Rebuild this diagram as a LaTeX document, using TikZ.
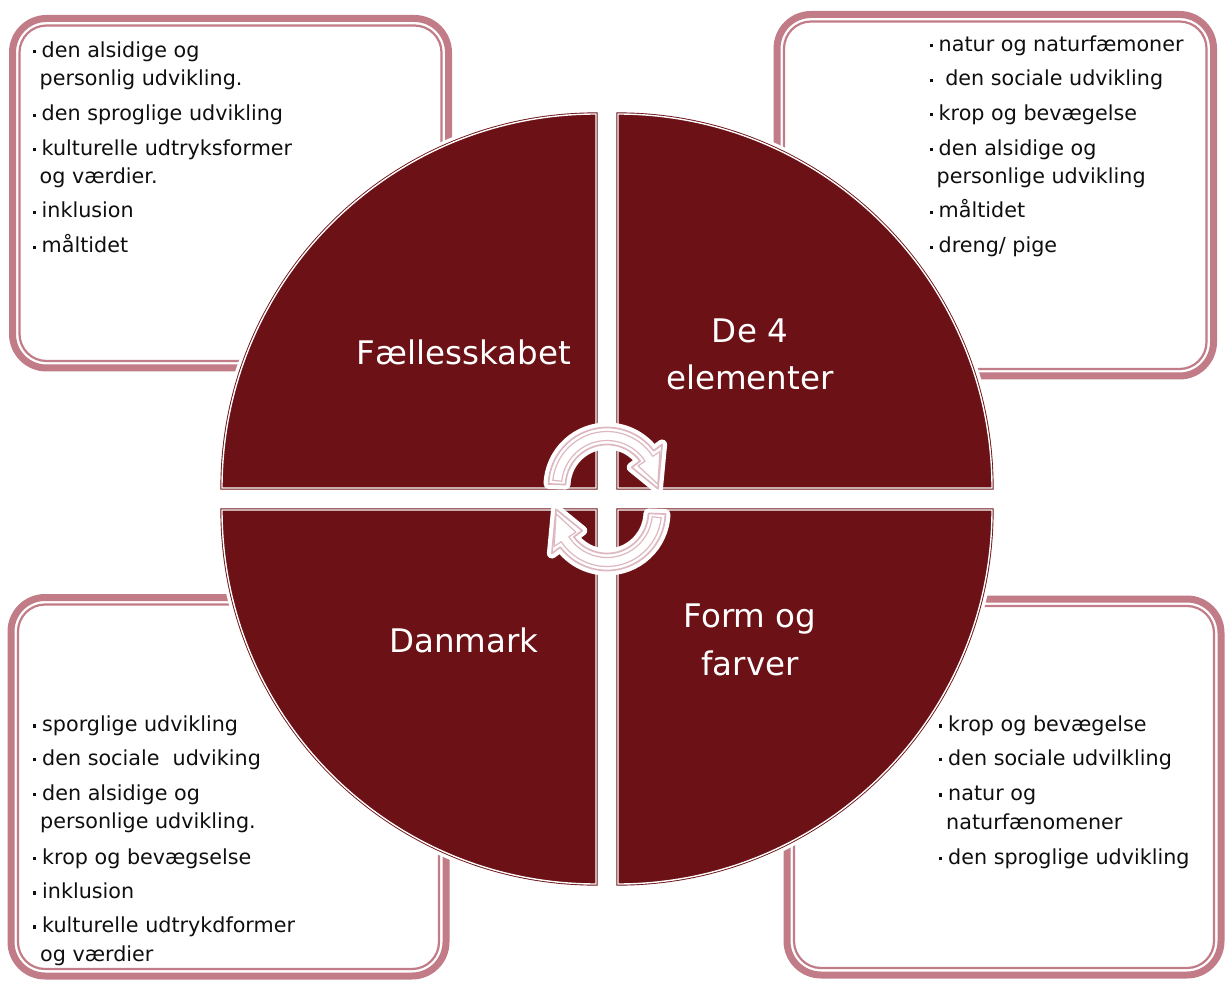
\documentclass[tikz,border=0pt]{standalone}
\usepackage{fontspec}
\setmainfont{DejaVu Sans}
\definecolor{qred}{RGB}{108,18,22}
\definecolor{boxc}{RGB}{193,124,136}
\definecolor{arrc}{RGB}{221,184,193}
\definecolor{txtc}{RGB}{15,15,15}
\newcommand\bdot{\rule[4pt]{3.2pt}{3.2pt}\hspace{5.8pt}}
\newcommand\arrowouter[1]{(178+#1:58.5) arc[start angle=178+#1, end angle=37+#1, radius=58.5] -- (37+#1:69) -- (-3+#1:51) -- (37+#1:31) -- (37+#1:41.5) arc[start angle=37+#1, end angle=178+#1, radius=41.5] -- cycle}
\newcommand\arrowinner[1]{(174+#1:54.5) arc[start angle=174+#1, end angle=33+#1, radius=54.5] -- (33+#1:63) -- (2+#1:51) -- (33+#1:37) -- (33+#1:45.5) arc[start angle=33+#1, end angle=174+#1, radius=45.5] -- cycle}
\newcommand\qTL{(596,-488) -- ++(-374,0) arc[start angle=180, end angle=90, radius=374] -- cycle}
\newcommand\qTR{(618,-488) -- ++(0,374) arc[start angle=90, end angle=0, radius=374] -- cycle}
\newcommand\qBL{(596,-510) -- ++(0,-374) arc[start angle=270, end angle=180, radius=374] -- cycle}
\newcommand\qBR{(618,-510) -- ++(374,0) arc[start angle=0, end angle=-90, radius=374] -- cycle}
\begin{document}
\begin{tikzpicture}[x=1pt,y=1pt,
  txt/.style={anchor=base west, inner sep=0, text=txtc, font=\fontsize{20.7}{24}\selectfont},
  ttl/.style={anchor=base, inner sep=0, text=white, font=\fontsize{32.5}{40}\selectfont},
  band/.style={draw=boxc, line width=7, rounded corners=34},
  boxline/.style={draw=boxc, line width=2.2, rounded corners=27},
  halo/.style={draw=white, line width=10, line join=round},
  qfill/.style={fill=qred},
  qedge/.style={draw=qred, double=white, double distance=1.4, line width=0.9},
  arrline/.style={draw=arrc, line width=1.7, line join=round},
  arrinner/.style={draw=arrc, line width=1.2, line join=round}]
\fill[white] (0,0) rectangle (1226,-981);
\useasboundingbox (0,0) rectangle (1226,-981);

% boxes
\draw[band] (12.5,-18.5) rectangle (448.5,-368);
\draw[boxline] (19.5,-25.5) rectangle (441.5,-361);
\draw[band] (777,-14.5) rectangle (1213.5,-376);
\draw[boxline] (784,-21.5) rectangle (1206.5,-369);
\draw[band] (11,-597.5) rectangle (446,-976);
\draw[boxline] (18,-604.5) rectangle (439,-969);
\draw[band] (787,-599) rectangle (1221,-975);
\draw[boxline] (794,-606) rectangle (1214,-968);

% quadrants
\foreach \q in {\qTL,\qTR,\qBL,\qBR}{\draw[halo] \q;}
\foreach \q in {\qTL,\qTR,\qBL,\qBR}{\fill[qfill] \q; \draw[qedge] \q;}

% circular arrows
\begin{scope}[shift={(607,-486)}]
  \draw[halo] \arrowouter{0};
  \fill[white] \arrowouter{0};
  \draw[arrline] \arrowouter{0};
  \draw[arrinner] \arrowinner{0};
\end{scope}
\begin{scope}[shift={(607,-512)}]
  \draw[halo] \arrowouter{180};
  \fill[white] \arrowouter{180};
  \draw[arrline] \arrowouter{180};
  \draw[arrinner] \arrowinner{180};
\end{scope}

% titles
\node[ttl] (t1) at (464,-365) {Fællesskabet};
\node[ttl] (t2a) at (750,-342.5) {De 4};
\node[ttl] (t2b) at (750,-390) {elementer};
\node[ttl] (t3) at (464,-652.5) {Danmark};
\node[ttl] (t4a) at (750,-627.5) {Form og};
\node[ttl] (t4b) at (750,-675) {farver};

% top-left box text
\node[txt] (tl1) at (32.5,-57.5) {\bdot den alsidige og};
\node[txt] (tl1b) at (39.5,-86) {personlig udvikling.};
\node[txt] (tl2) at (32.5,-121) {\bdot den sproglige udvikling};
\node[txt] (tl3) at (32.5,-155.5) {\bdot kulturelle udtryksformer};
\node[txt] (tl3b) at (39.5,-184) {og værdier.};
\node[txt] (tl4) at (32.5,-218) {\bdot inklusion};
\node[txt] (tl5) at (32.5,-253) {\bdot måltidet};

% top-right box text
\node[txt] (tr1) at (929.5,-51.5) {\bdot natur og naturfæmoner};
\node[txt] (tr2) at (929.5,-86) {\bdot\ den sociale udvikling};
\node[txt] (tr3) at (929.5,-120.5) {\bdot krop og bevægelse};
\node[txt] (tr4) at (929.5,-155.5) {\bdot den alsidige og};
\node[txt] (tr4b) at (936.5,-184) {personlige udvikling};
\node[txt] (tr5) at (929.5,-218) {\bdot måltidet};
\node[txt] (tr6) at (929.5,-253) {\bdot dreng/ pige};

% bottom-left box text
\node[txt] (bl1) at (33,-731.5) {\bdot sporglige udvikling};
\node[txt] (bl2) at (33,-765) {\bdot den sociale\ \ udviking};
\node[txt] (bl3) at (33,-800) {\bdot den alsidige og};
\node[txt] (bl3b) at (40,-828.5) {personlige udvikling.};
\node[txt] (bl4) at (33,-864) {\bdot krop og bevægselse};
\node[txt] (bl5) at (33,-898.5) {\bdot inklusion};
\node[txt] (bl6) at (33,-932.5) {\bdot kulturelle udtrykdformer};
\node[txt] (bl6b) at (40,-961) {og værdier};

% bottom-right box text
\node[txt] (br1) at (939,-731.5) {\bdot krop og bevægelse};
\node[txt] (br2) at (939,-765) {\bdot den sociale udvilkling};
\node[txt] (br3) at (939,-800.5) {\bdot natur og};
\node[txt] (br3b) at (946,-829) {naturfænomener};
\node[txt] (br4) at (939,-864) {\bdot den sproglige udvikling};
\end{tikzpicture}
\end{document}
